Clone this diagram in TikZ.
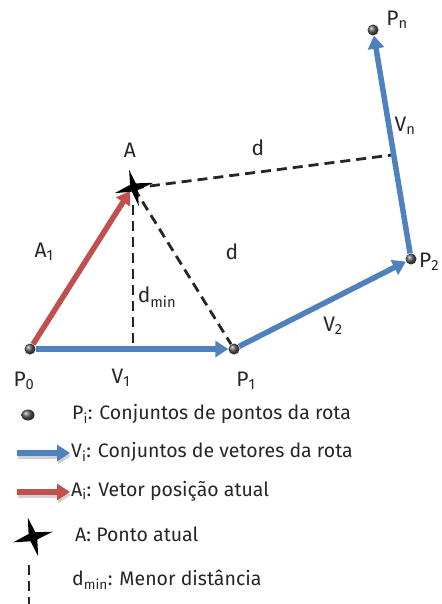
\documentclass[tikz,border=0pt]{standalone}
\usepackage{fontspec}
\setmainfont{Fira Sans}
\usetikzlibrary{arrows.meta,shapes.geometric}
\definecolor{vblue}{HTML}{4F81BD}
\definecolor{ared}{HTML}{C0504D}
\definecolor{txt}{HTML}{262626}
\begin{document}
\begin{tikzpicture}[x=1pt,y=-1pt,
  vec/.style={line width=5.5pt,-{Triangle[length=13pt,width=16pt]}},
  bvec/.style={vec,vblue},
  rvec/.style={vec,ared},
  dsh/.style={line width=2.8pt,dash pattern=on 10pt off 6pt,black!85},
  pt/.style={circle,inner sep=0pt,minimum size=11pt,ball color=black!65,draw=none},
  lbl/.style={font=\fontsize{21}{21}\selectfont,text=txt,inner sep=1pt},
  leg/.style={font=\fontsize{19.5}{19.5}\selectfont,text=txt,anchor=west,inner sep=0pt},
  shadowln/.style={line width=6pt,black!18,-{Triangle[length=13pt,width=16pt]}}
]
\useasboundingbox (0,0) rectangle (441,604);
% points
\coordinate (A) at (134,188);
\coordinate (Ab) at (133,205);
\coordinate (F) at (133,349);
\coordinate (Q) at (392,155);
\node[pt] (P0) at (30,349) {};
\node[pt] (P1) at (234,349) {};
\node[pt] (P2) at (411,259) {};
\node[pt] (Pn) at (373,30) {};
% dashed lines
\draw[dsh] (Ab) -- (F);
\draw[dsh] (A) -- (P1);
\draw[dsh] (A) -- (Q);
% vectors
\draw[bvec] (P0) -- (P1);
\draw[bvec] (P1) -- (P2);
\draw[bvec] (P2) -- (Pn);
\draw[rvec] (P0) -- ([shift={(-4pt,-3pt)}]A);
% star
\fill[black,rotate around={15:(A)}] (A) ++(0,-19) -- ++(3,15) -- ++(17,4) -- ++(-17,3) -- ++(-3,16) -- ++(-3,-16) -- ++(-17,-3) -- ++(17,-4) -- cycle;
% labels
\node[lbl] (lA) at (130,150) {A};
\node[lbl] (ld1) at (258,148) {d};
\node[lbl] (ld2) at (232,252) {d};
\node[lbl] (ldm) at (157,297) {d\textsubscript{min}};
\node[lbl] (lA1) at (44,252) {A\textsubscript{1}};
\node[lbl] (lP0) at (24,381) {P\textsubscript{0}};
\node[lbl] (lV1) at (121,378) {V\textsubscript{1}};
\node[lbl] (lP1) at (246,381) {P\textsubscript{1}};
\node[lbl] (lV2) at (333,326) {V\textsubscript{2}};
\node[lbl,anchor=west] (lP2) at (418,262) {P\textsubscript{2}};
\node[lbl] (lVn) at (405,126) {V\textsubscript{n}};
\node[lbl] (lPn) at (397,20) {P\textsubscript{n}};
% legend
\node[pt,ellipse,minimum width=13pt,minimum height=11pt] (g1) at (28,415) {};
\node[leg] (t1) at (72,414) {P\textsubscript{i}: Conjuntos de pontos da rota};
\coordinate (b1) at (17,453);
\coordinate (b2) at (70,453);
\draw[shadowln] ([shift={(1pt,-3pt)}]b1) -- ([shift={(1pt,-3pt)}]b2);
\draw[bvec] (b1) -- (b2);
\node[leg] (t2) at (71,452) {V\textsubscript{i}: Conjuntos de vetores da rota};
\coordinate (r1) at (17,492);
\coordinate (r2) at (70,492);
\draw[shadowln] ([shift={(1pt,-3pt)}]r1) -- ([shift={(1pt,-3pt)}]r2);
\draw[rvec] (r1) -- (r2);
\node[leg] (t3) at (71,491) {A\textsubscript{i}: Vetor posição atual};
\coordinate (S) at (33,537);
\fill[black,rotate around={15:(S)}] (S) ++(0,-20) -- ++(3.5,16) -- ++(17,4) -- ++(-17,3.5) -- ++(-3.5,16.5) -- ++(-3.5,-16.5) -- ++(-17,-3.5) -- ++(17,-4) -- cycle;
\node[leg] (t4) at (75,534) {A: Ponto atual};
\coordinate (d1) at (29,565);
\coordinate (d2) at (29,606);
\draw[dsh] (d1) -- (d2);
\node[leg] (t5) at (72,580) {d\textsubscript{min}: Menor distância};
\end{tikzpicture}
\end{document}
